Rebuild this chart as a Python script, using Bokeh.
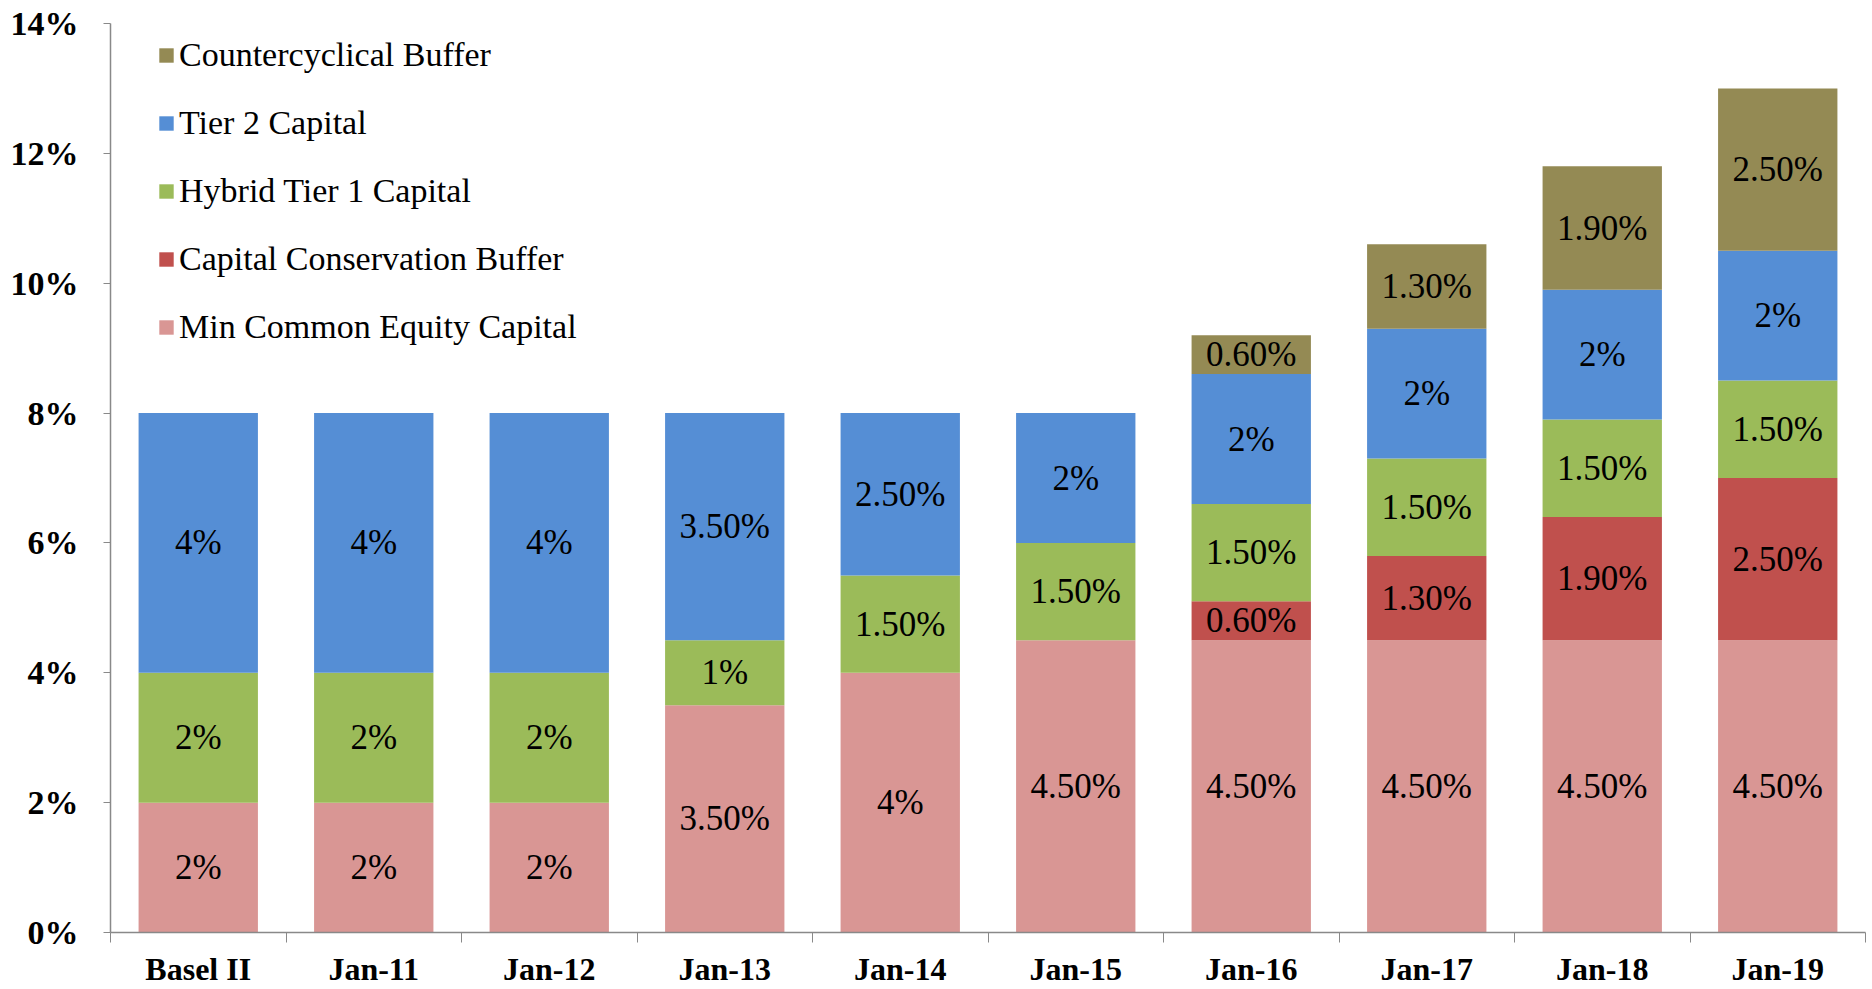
from bokeh.plotting import figure
from bokeh.models import ColumnDataSource, FixedTicker, PrintfTickFormatter, Legend, LegendItem, Range1d
from bokeh.core.properties import value
from bokeh.embed import file_html
from bokeh.resources import INLINE

categories = ["Basel II", "Jan-11", "Jan-12", "Jan-13", "Jan-14", "Jan-15", "Jan-16", "Jan-17", "Jan-18", "Jan-19"]
min_common_equity = [2, 2, 2, 3.5, 4, 4.5, 4.5, 4.5, 4.5, 4.5]
conservation_buffer = [0, 0, 0, 0, 0, 0, 0.6, 1.3, 1.9, 2.5]
hybrid_tier1 = [2, 2, 2, 1, 1.5, 1.5, 1.5, 1.5, 1.5, 1.5]
tier2 = [4, 4, 4, 3.5, 2.5, 2, 2, 2, 2, 2]
countercyclical = [0, 0, 0, 0, 0, 0, 0.6, 1.3, 1.9, 2.5]
y_ticks = [0, 2, 4, 6, 8, 10, 12, 14]

series_names = ["Min Common Equity Capital", "Capital Conservation Buffer", "Hybrid Tier 1 Capital",
                "Tier 2 Capital", "Countercyclical Buffer"]
series_values = [min_common_equity, conservation_buffer, hybrid_tier1, tier2, countercyclical]
colors = ["#D99694", "#C0504D", "#9BBB59", "#558ED5", "#948A54"]
keys = ["s0", "s1", "s2", "s3", "s4"]

FONT = "Liberation Serif"
xs = [i + 0.5 for i in range(len(categories))]

data = {"x": xs}
for k, v in zip(keys, series_values):
    data[k] = v
src = ColumnDataSource(data)

p = figure(width=1872, height=989, output_backend="svg", toolbar_location=None,
           x_range=Range1d(0, len(categories)), y_range=Range1d(0, 14),
           min_border_left=110, min_border_right=7, min_border_top=23, min_border_bottom=55)
p.outline_line_color = None
p.xgrid.visible = False
p.ygrid.visible = False

renderers = p.vbar_stack(keys, x="x", width=0.68, source=src, color=colors, line_color=None)

# labels
lx, ly, lt = [], [], []
for i in range(len(categories)):
    base = 0.0
    for v in series_values:
        if v[i] > 0:
            lx.append(xs[i])
            ly.append(base + v[i] / 2)
            lt.append(("%d%%" % v[i]) if float(v[i]).is_integer() else ("%.2f%%" % v[i]))
        base += v[i]
p.text(x="x", y="y", text="t", source=ColumnDataSource(dict(x=lx, y=ly, t=lt)),
       text_align="center", text_baseline="middle", text_font=value(FONT),
       text_font_size="35px", text_color="#000000")

axis_color = "#898989"
# x axis
xa = p.xaxis[0]
xa.ticker = FixedTicker(ticks=xs, minor_ticks=list(range(len(categories) + 1)))
xa.major_label_overrides = {x: c for x, c in zip(xs, categories)}
xa.major_tick_line_color = None
xa.major_tick_out = 0
xa.major_tick_in = 0
xa.minor_tick_line_color = axis_color
xa.minor_tick_out = 10
xa.minor_tick_in = 0
xa.axis_line_color = axis_color
xa.axis_line_width = 1.5
xa.major_label_text_font = FONT
xa.major_label_text_font_style = "bold"
xa.major_label_text_font_size = "32px"
xa.major_label_text_color = "#000000"
xa.major_label_standoff = 8

ya = p.yaxis[0]
ya.ticker = FixedTicker(ticks=y_ticks)
ya.formatter = PrintfTickFormatter(format="%d%%")
ya.minor_tick_line_color = None
ya.major_tick_line_color = axis_color
ya.major_tick_out = 7
ya.major_tick_in = 0
ya.axis_line_color = axis_color
ya.axis_line_width = 1.5
ya.major_label_text_font = FONT
ya.major_label_text_font_style = "bold"
ya.major_label_text_font_size = "34px"
ya.major_label_text_color = "#000000"
ya.major_label_standoff = 25

items = [LegendItem(label=n, renderers=[r]) for n, r in zip(series_names, renderers)]
items = items[::-1]
legend = Legend(items=items, location=(47, 585), orientation="vertical",
                label_text_font=FONT, label_text_font_size="34px", label_text_color="#000000",
                glyph_width=18, glyph_height=18, label_height=40, spacing=28,
                label_standoff=4, padding=0, margin=0,
                border_line_color=None, background_fill_alpha=0)
p.add_layout(legend)

open("out.html", "w").write(file_html(p, INLINE))
